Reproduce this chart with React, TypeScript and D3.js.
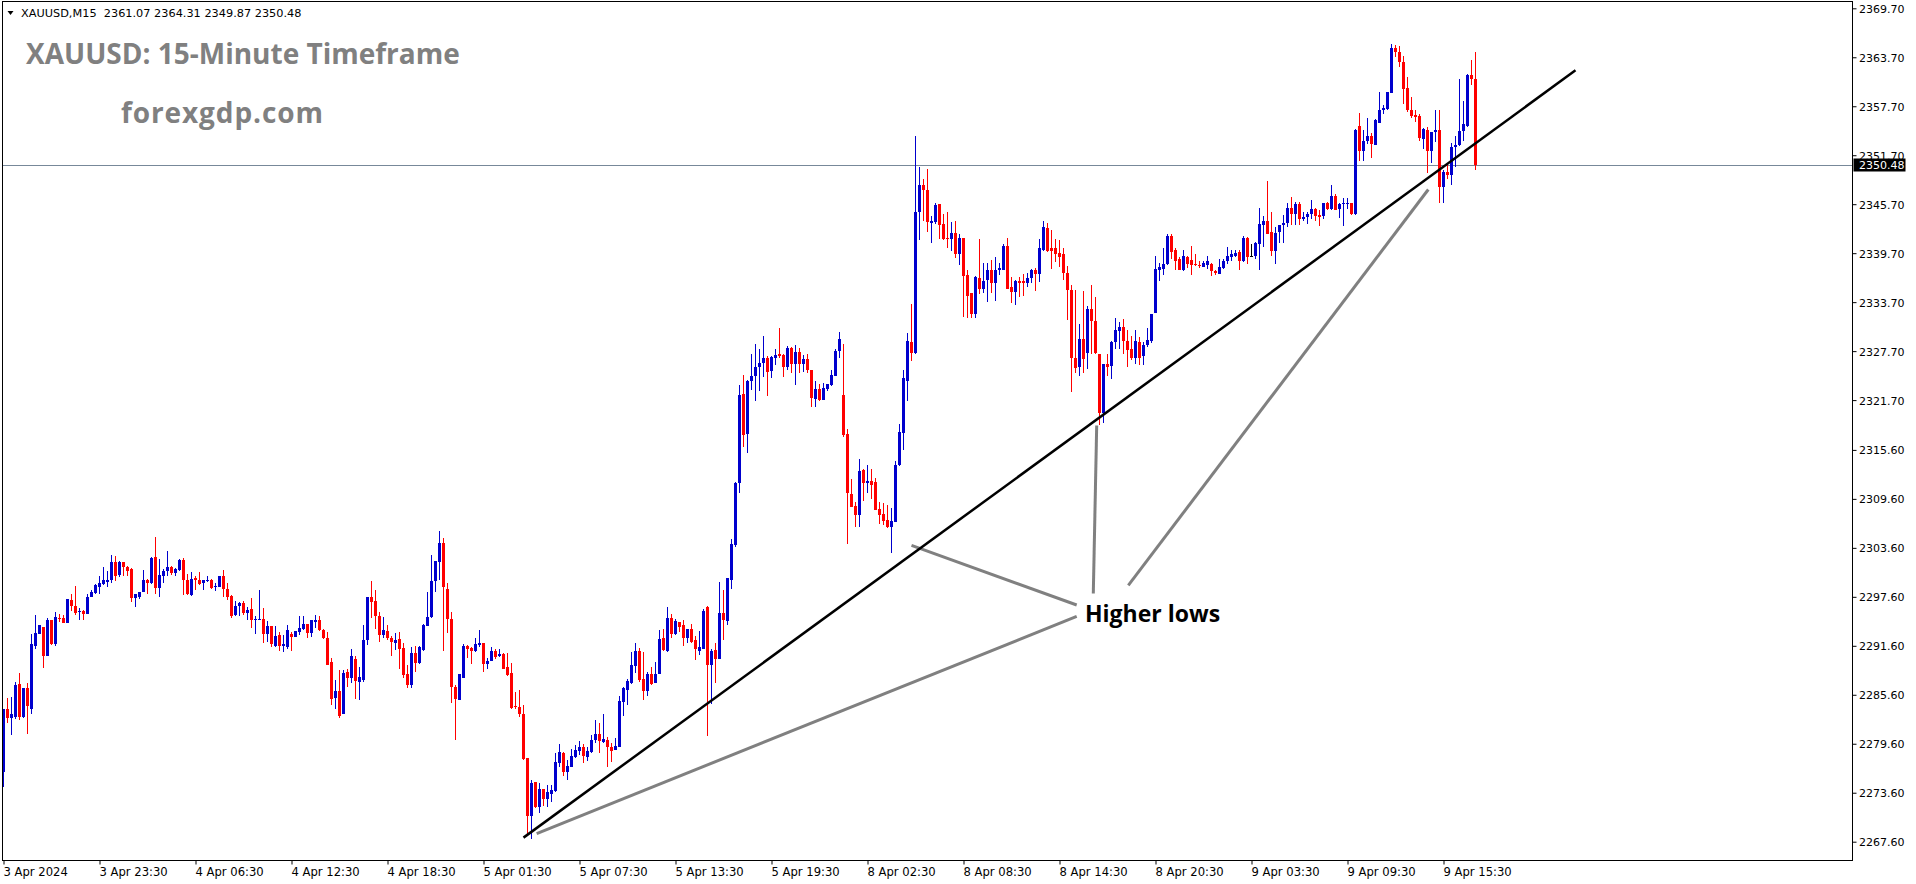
import React, { useEffect, useRef } from "react";
import * as d3 from "d3";

const WIDTH = 1916;
const HEIGHT = 884;
const PLOT = { left: 2.5, top: 1.5, right: 1852.5, bottom: 860.5 };

const symbolHeader = "XAUUSD,M15  2361.07 2364.31 2349.87 2350.48";
const chartTitle = "XAUUSD: 15-Minute Timeframe";
const siteName = "forexgdp.com";
const annotationText = "Higher lows";
const lastPrice = 2350.48;

const priceTicks = [
  "2369.70", "2363.70", "2357.70", "2351.70", "2345.70", "2339.70",
  "2333.70", "2327.70", "2321.70", "2315.60", "2309.60", "2303.60",
  "2297.60", "2291.60", "2285.60", "2279.60", "2273.60", "2267.60",
];

// one label every 24 bars
const barsPerLabel = 24;
const timeLabels = [
  "3 Apr 2024", "3 Apr 23:30", "4 Apr 06:30", "4 Apr 12:30", "4 Apr 18:30",
  "5 Apr 01:30", "5 Apr 07:30", "5 Apr 13:30", "5 Apr 19:30", "8 Apr 02:30",
  "8 Apr 08:30", "8 Apr 14:30", "8 Apr 20:30", "9 Apr 03:30", "9 Apr 09:30",
  "9 Apr 15:30",
];

// [open, high, low, close] for each M15 bar
const ohlc: [number, number, number, number][] = [
  [2276.1, 2283.9, 2274.3, 2283.9], [2283.9, 2285.2, 2282.1, 2282.8], [2282.8, 2285.3, 2280.7, 2283.2],
  [2282.9, 2287.2, 2282.6, 2286.8], [2286.9, 2288.3, 2282.5, 2282.9], [2282.9, 2286.4, 2282.7, 2286.4],
  [2286.4, 2287.0, 2280.8, 2284.2], [2283.9, 2293.0, 2283.2, 2291.8], [2291.6, 2295.4, 2291.2, 2293.2],
  [2293.1, 2294.1, 2293.1, 2294.1], [2293.9, 2293.9, 2288.9, 2290.4], [2290.3, 2295.0, 2290.3, 2294.8],
  [2294.8, 2294.8, 2291.7, 2291.8], [2291.8, 2295.7, 2291.6, 2295.1], [2295.0, 2295.5, 2294.5, 2294.9],
  [2295.0, 2295.4, 2294.4, 2294.4], [2294.4, 2297.3, 2294.4, 2297.3], [2297.2, 2297.9, 2295.9, 2296.5],
  [2296.5, 2298.9, 2295.4, 2295.6], [2295.7, 2296.2, 2294.7, 2295.9], [2295.9, 2296.0, 2294.8, 2295.5],
  [2295.5, 2297.9, 2295.5, 2297.6], [2297.6, 2298.4, 2297.6, 2298.2], [2298.1, 2299.2, 2297.9, 2299.0],
  [2298.8, 2300.1, 2297.9, 2299.3], [2299.2, 2301.2, 2299.0, 2299.7], [2299.4, 2300.8, 2298.8, 2299.7],
  [2299.7, 2302.7, 2299.3, 2301.9], [2301.9, 2302.6, 2299.5, 2300.2], [2300.3, 2302.0, 2300.0, 2301.9],
  [2301.9, 2301.9, 2300.1, 2301.3], [2301.3, 2301.4, 2300.1, 2300.8], [2301.0, 2301.1, 2297.0, 2297.5],
  [2297.5, 2298.0, 2296.4, 2297.9], [2297.6, 2298.2, 2297.3, 2298.2], [2298.2, 2300.9, 2298.2, 2299.7],
  [2299.7, 2299.8, 2297.9, 2299.3], [2299.3, 2302.5, 2299.2, 2302.3], [2302.5, 2304.9, 2297.9, 2298.7],
  [2298.7, 2302.2, 2297.6, 2300.3], [2300.2, 2301.0, 2299.3, 2300.8], [2300.8, 2303.2, 2300.1, 2301.2],
  [2301.2, 2301.4, 2300.3, 2300.5], [2300.5, 2301.1, 2300.1, 2301.0], [2300.9, 2302.2, 2300.8, 2302.1],
  [2302.1, 2302.3, 2297.8, 2299.6], [2299.6, 2300.4, 2297.8, 2297.9], [2297.8, 2300.6, 2297.7, 2299.8],
  [2299.9, 2300.1, 2298.4, 2299.7], [2299.7, 2300.6, 2299.0, 2299.2], [2299.3, 2299.7, 2298.4, 2299.7],
  [2299.5, 2300.1, 2299.4, 2299.7], [2299.7, 2299.8, 2298.6, 2298.7], [2298.8, 2299.3, 2298.3, 2298.9],
  [2298.8, 2300.1, 2298.8, 2300.1], [2300.1, 2300.9, 2297.6, 2298.6], [2298.5, 2299.3, 2297.2, 2297.6],
  [2297.7, 2297.8, 2295.0, 2295.3], [2295.4, 2297.1, 2295.2, 2296.5], [2296.5, 2297.0, 2295.3, 2296.9],
  [2296.9, 2297.1, 2295.4, 2295.6], [2295.6, 2296.3, 2294.8, 2296.0], [2296.1, 2297.5, 2293.8, 2294.8],
  [2294.7, 2295.2, 2293.0, 2294.9], [2294.8, 2298.4, 2294.7, 2294.9], [2294.9, 2296.2, 2292.0, 2293.1],
  [2293.1, 2294.6, 2292.1, 2294.0], [2294.0, 2294.0, 2291.5, 2291.8], [2291.6, 2294.0, 2291.5, 2292.8],
  [2292.9, 2293.3, 2291.0, 2291.6], [2291.6, 2292.9, 2290.9, 2291.8], [2291.5, 2294.1, 2291.2, 2293.5],
  [2293.1, 2293.3, 2291.0, 2292.7], [2292.7, 2293.4, 2292.7, 2293.4], [2293.3, 2295.2, 2292.9, 2293.8],
  [2293.7, 2295.2, 2293.5, 2294.3], [2294.3, 2294.3, 2292.6, 2293.2], [2293.2, 2294.8, 2292.7, 2294.7],
  [2294.5, 2295.4, 2293.8, 2294.8], [2294.8, 2295.2, 2293.4, 2293.5], [2293.5, 2293.6, 2292.4, 2292.6],
  [2292.6, 2293.3, 2289.2, 2289.3], [2289.6, 2290.1, 2284.3, 2285.1], [2285.2, 2287.4, 2283.9, 2286.1],
  [2286.1, 2288.6, 2282.8, 2283.0], [2283.2, 2288.6, 2283.2, 2288.3], [2288.4, 2288.7, 2286.6, 2287.7],
  [2287.7, 2291.2, 2287.1, 2290.3], [2290.0, 2290.3, 2285.1, 2287.3], [2287.2, 2289.0, 2285.0, 2287.8],
  [2287.4, 2294.1, 2287.2, 2292.3], [2292.3, 2297.6, 2291.7, 2297.6], [2297.6, 2299.5, 2295.0, 2297.0],
  [2297.1, 2298.4, 2293.7, 2295.2], [2295.2, 2295.7, 2292.1, 2292.9], [2292.9, 2295.1, 2292.6, 2293.5],
  [2293.4, 2294.1, 2292.3, 2292.5], [2292.6, 2292.8, 2290.4, 2292.1], [2292.0, 2293.2, 2291.1, 2292.3],
  [2292.4, 2293.3, 2288.8, 2291.2], [2291.3, 2291.9, 2287.6, 2288.0], [2288.2, 2289.3, 2286.4, 2286.8],
  [2286.8, 2291.4, 2286.4, 2290.7], [2290.7, 2291.6, 2288.4, 2289.5], [2289.5, 2291.6, 2289.4, 2291.4],
  [2291.1, 2294.3, 2291.0, 2294.2], [2294.0, 2298.2, 2294.0, 2295.1], [2295.1, 2302.7, 2295.0, 2299.5],
  [2299.5, 2302.0, 2298.2, 2302.0], [2301.9, 2305.7, 2299.7, 2304.2], [2304.2, 2304.8, 2291.0, 2298.8],
  [2298.6, 2299.3, 2293.2, 2294.9], [2294.9, 2295.8, 2284.6, 2286.5], [2286.5, 2286.8, 2280.1, 2285.1],
  [2285.0, 2288.2, 2284.9, 2288.1], [2287.7, 2291.8, 2287.7, 2291.6], [2291.6, 2291.7, 2290.1, 2291.2],
  [2291.3, 2291.5, 2289.4, 2291.0], [2291.0, 2292.5, 2290.8, 2291.8], [2291.7, 2293.5, 2291.5, 2291.9],
  [2291.9, 2291.9, 2288.4, 2289.4], [2289.4, 2290.1, 2288.8, 2289.7], [2289.7, 2291.4, 2289.7, 2291.0],
  [2291.0, 2291.2, 2290.0, 2290.2], [2290.3, 2291.2, 2290.2, 2290.6], [2290.6, 2290.7, 2288.7, 2288.8],
  [2289.0, 2290.7, 2287.9, 2288.0], [2288.3, 2289.5, 2283.9, 2284.0], [2284.2, 2285.9, 2283.9, 2284.1],
  [2284.1, 2286.2, 2282.9, 2283.2], [2283.2, 2284.3, 2277.6, 2277.7], [2277.8, 2277.8, 2268.6, 2270.8],
  [2270.7, 2275.2, 2267.9, 2274.8], [2274.9, 2274.9, 2271.7, 2271.8], [2271.8, 2274.8, 2271.1, 2274.1],
  [2274.1, 2274.1, 2272.0, 2272.8], [2272.8, 2274.5, 2271.9, 2273.7], [2273.5, 2274.5, 2272.5, 2273.9],
  [2273.8, 2278.5, 2273.7, 2277.4], [2277.3, 2279.6, 2276.7, 2278.6], [2278.5, 2278.6, 2275.6, 2276.1],
  [2276.1, 2277.6, 2275.2, 2276.9], [2276.8, 2279.0, 2276.7, 2278.1], [2278.0, 2279.4, 2277.9, 2278.8],
  [2278.7, 2279.9, 2278.2, 2279.2], [2279.2, 2279.6, 2277.2, 2278.1], [2278.0, 2279.2, 2277.5, 2278.7],
  [2278.6, 2280.7, 2278.5, 2280.1], [2280.0, 2282.5, 2279.7, 2280.8], [2280.8, 2282.1, 2278.5, 2279.9],
  [2279.8, 2283.3, 2279.7, 2280.2], [2280.1, 2280.4, 2276.7, 2279.2], [2279.2, 2279.7, 2277.4, 2278.7],
  [2278.8, 2280.3, 2278.8, 2279.3], [2279.2, 2285.5, 2279.2, 2284.8], [2284.7, 2286.6, 2283.0, 2286.4],
  [2286.2, 2287.5, 2284.3, 2287.3], [2287.0, 2290.8, 2286.9, 2289.2], [2289.1, 2291.9, 2288.3, 2291.0],
  [2291.0, 2291.3, 2287.2, 2287.4], [2287.5, 2290.8, 2285.0, 2286.1], [2286.1, 2288.4, 2285.5, 2288.1],
  [2288.1, 2289.0, 2286.8, 2286.9], [2287.1, 2289.6, 2287.0, 2288.1], [2288.1, 2293.5, 2288.1, 2292.4],
  [2292.5, 2293.6, 2291.0, 2291.1], [2291.0, 2296.3, 2290.9, 2295.0], [2295.0, 2295.5, 2292.6, 2293.0],
  [2293.0, 2294.9, 2292.9, 2294.6], [2294.5, 2294.5, 2293.3, 2293.9], [2294.1, 2294.8, 2291.6, 2292.6],
  [2292.6, 2293.7, 2291.9, 2293.6], [2293.6, 2294.3, 2292.0, 2292.1], [2292.3, 2292.8, 2289.9, 2291.2],
  [2291.0, 2293.4, 2290.5, 2291.4], [2291.2, 2296.1, 2291.2, 2295.9], [2296.3, 2296.5, 2280.5, 2289.2],
  [2289.2, 2291.2, 2284.5, 2291.0], [2291.1, 2292.0, 2287.1, 2290.0], [2290.0, 2299.4, 2290.0, 2295.6],
  [2295.6, 2298.4, 2292.3, 2294.8], [2294.6, 2299.9, 2294.1, 2299.9], [2299.6, 2304.7, 2298.6, 2304.1],
  [2303.9, 2311.7, 2303.7, 2311.6], [2311.5, 2323.5, 2310.3, 2322.3], [2322.4, 2324.8, 2316.0, 2317.4],
  [2317.5, 2324.2, 2315.2, 2324.1], [2324.1, 2327.3, 2322.9, 2324.6], [2324.6, 2328.6, 2321.6, 2325.8],
  [2325.8, 2327.9, 2322.8, 2326.3], [2326.2, 2329.5, 2324.5, 2326.9], [2326.9, 2327.1, 2322.2, 2325.2],
  [2325.3, 2327.1, 2324.4, 2327.0], [2326.9, 2327.9, 2326.0, 2327.2], [2327.3, 2330.5, 2326.9, 2327.1],
  [2327.2, 2327.4, 2324.5, 2325.7], [2325.7, 2328.3, 2325.4, 2328.1], [2328.1, 2328.2, 2325.0, 2326.1],
  [2326.1, 2328.5, 2323.6, 2327.6], [2327.6, 2328.1, 2325.0, 2326.1], [2326.1, 2327.2, 2325.2, 2326.7],
  [2326.7, 2327.4, 2325.0, 2325.4], [2325.4, 2325.4, 2320.8, 2321.9], [2321.8, 2324.1, 2320.8, 2323.0],
  [2323.0, 2323.7, 2321.6, 2321.7], [2321.7, 2323.8, 2321.7, 2323.2], [2323.1, 2323.7, 2322.8, 2323.7],
  [2323.5, 2325.4, 2323.4, 2324.8], [2324.6, 2327.9, 2324.6, 2327.7], [2327.7, 2330.0, 2326.9, 2329.2],
  [2322.3, 2328.6, 2317.2, 2317.4], [2317.5, 2318.2, 2304.1, 2310.3], [2310.2, 2312.0, 2308.6, 2308.6],
  [2308.7, 2309.2, 2306.2, 2307.6], [2307.6, 2314.5, 2306.2, 2313.0], [2313.1, 2313.3, 2309.4, 2311.6],
  [2311.6, 2313.7, 2310.3, 2311.8], [2311.8, 2313.2, 2309.6, 2311.3], [2311.7, 2312.2, 2308.2, 2308.2],
  [2308.3, 2309.2, 2306.5, 2307.6], [2307.7, 2309.1, 2306.4, 2306.9], [2307.0, 2308.8, 2306.0, 2306.1],
  [2306.1, 2308.5, 2303.0, 2306.9], [2306.8, 2314.2, 2306.8, 2313.7], [2313.7, 2318.8, 2313.6, 2317.8],
  [2317.7, 2325.4, 2315.6, 2324.4], [2324.1, 2329.9, 2321.6, 2328.9], [2328.8, 2333.5, 2326.5, 2327.5],
  [2327.5, 2354.0, 2327.4, 2344.8], [2344.8, 2350.2, 2341.3, 2348.1], [2348.1, 2348.8, 2343.7, 2347.5],
  [2347.5, 2350.0, 2342.3, 2343.5], [2343.4, 2344.3, 2341.0, 2343.7], [2343.5, 2345.9, 2343.3, 2345.6],
  [2345.7, 2345.7, 2341.4, 2343.2], [2343.3, 2344.5, 2341.3, 2341.4], [2341.6, 2344.8, 2340.3, 2341.4],
  [2341.4, 2343.5, 2340.0, 2342.2], [2342.2, 2343.7, 2339.1, 2339.6], [2339.6, 2342.1, 2338.3, 2341.6],
  [2341.6, 2341.6, 2331.9, 2336.9], [2337.0, 2337.6, 2331.8, 2334.5], [2334.8, 2334.8, 2331.8, 2332.2],
  [2332.2, 2336.9, 2331.8, 2336.8], [2336.7, 2341.4, 2334.7, 2335.3], [2335.3, 2338.5, 2334.8, 2336.3],
  [2336.4, 2338.5, 2333.7, 2337.7], [2337.7, 2338.9, 2334.8, 2336.1], [2336.1, 2339.2, 2333.9, 2337.6],
  [2337.6, 2338.5, 2337.0, 2337.9], [2337.6, 2340.8, 2337.6, 2340.6], [2340.6, 2341.6, 2335.3, 2335.3],
  [2335.5, 2336.8, 2333.6, 2334.9], [2334.9, 2336.4, 2333.3, 2336.3], [2336.3, 2336.8, 2334.3, 2336.1],
  [2336.3, 2337.2, 2334.5, 2336.1], [2336.1, 2337.3, 2335.5, 2336.7], [2336.7, 2337.8, 2336.1, 2337.6],
  [2337.6, 2337.9, 2335.1, 2337.1], [2337.1, 2341.4, 2336.2, 2340.3], [2340.1, 2343.7, 2340.0, 2342.9],
  [2342.8, 2343.4, 2339.9, 2340.0], [2340.3, 2342.5, 2337.8, 2340.0], [2340.3, 2341.4, 2338.6, 2339.6],
  [2339.7, 2341.3, 2338.0, 2339.2], [2339.6, 2340.3, 2336.4, 2337.3], [2337.3, 2338.1, 2331.5, 2335.2],
  [2335.2, 2335.8, 2322.7, 2326.8], [2326.8, 2335.2, 2325.0, 2325.6], [2325.7, 2331.0, 2324.6, 2329.2],
  [2329.2, 2335.1, 2325.0, 2326.7], [2327.5, 2333.2, 2325.5, 2332.8], [2332.8, 2335.8, 2327.4, 2331.4],
  [2331.4, 2334.3, 2327.4, 2327.5], [2327.4, 2327.4, 2318.6, 2320.1], [2320.1, 2326.1, 2318.9, 2326.1],
  [2326.1, 2327.4, 2324.6, 2325.7], [2325.9, 2329.0, 2324.3, 2328.8], [2328.8, 2331.7, 2328.0, 2330.3],
  [2330.2, 2331.3, 2328.0, 2330.6], [2330.6, 2331.6, 2327.4, 2329.0], [2329.0, 2330.3, 2325.7, 2327.8],
  [2328.0, 2329.5, 2326.6, 2326.8], [2326.9, 2330.3, 2326.1, 2329.0], [2328.8, 2329.4, 2326.0, 2326.9],
  [2327.1, 2328.8, 2326.0, 2328.5], [2328.4, 2330.5, 2328.2, 2329.1], [2329.0, 2332.2, 2328.7, 2332.2],
  [2332.4, 2339.3, 2332.4, 2337.8], [2337.7, 2338.5, 2336.3, 2338.0], [2337.8, 2340.3, 2337.0, 2338.4],
  [2338.4, 2342.0, 2338.3, 2341.8], [2341.8, 2342.1, 2339.0, 2339.9], [2340.1, 2340.3, 2337.6, 2338.8],
  [2339.0, 2339.2, 2337.6, 2337.7], [2337.7, 2340.1, 2337.5, 2339.4], [2339.2, 2339.4, 2337.9, 2338.4],
  [2338.9, 2340.6, 2337.0, 2338.3], [2338.4, 2339.6, 2338.1, 2338.2], [2338.3, 2338.8, 2337.9, 2338.1],
  [2338.0, 2338.8, 2338.0, 2338.5], [2338.3, 2339.4, 2337.8, 2338.8], [2338.4, 2338.5, 2336.9, 2337.5],
  [2337.5, 2337.7, 2337.0, 2337.3], [2337.2, 2339.0, 2337.1, 2338.0], [2337.9, 2339.0, 2337.8, 2338.7],
  [2338.7, 2340.5, 2338.4, 2339.3], [2339.2, 2340.1, 2338.8, 2339.6], [2339.3, 2340.1, 2339.2, 2339.7],
  [2339.9, 2340.1, 2337.6, 2338.7], [2338.7, 2341.8, 2338.6, 2341.6], [2341.6, 2341.7, 2338.4, 2339.2],
  [2339.3, 2340.8, 2339.2, 2339.3], [2339.3, 2341.1, 2339.0, 2340.9], [2340.8, 2345.2, 2337.7, 2343.3],
  [2343.2, 2344.3, 2340.5, 2343.7], [2343.7, 2348.5, 2342.0, 2342.1], [2342.3, 2344.7, 2339.3, 2340.0],
  [2340.0, 2342.9, 2338.4, 2342.2], [2342.3, 2343.2, 2341.0, 2343.1], [2343.1, 2344.4, 2341.0, 2343.4],
  [2343.4, 2345.9, 2342.9, 2345.2], [2345.2, 2346.6, 2343.2, 2344.5], [2344.5, 2346.0, 2343.2, 2345.7],
  [2345.7, 2346.0, 2343.1, 2343.9], [2343.9, 2344.8, 2343.6, 2344.1], [2344.1, 2344.8, 2343.3, 2344.5],
  [2344.5, 2346.2, 2343.9, 2345.1], [2345.1, 2345.2, 2343.7, 2344.2], [2344.4, 2345.0, 2343.0, 2344.1],
  [2344.2, 2345.9, 2343.9, 2345.9], [2345.9, 2346.0, 2345.0, 2345.1], [2345.1, 2348.0, 2345.0, 2346.7],
  [2346.7, 2346.9, 2345.0, 2345.0], [2345.1, 2345.9, 2344.0, 2345.7], [2345.7, 2346.4, 2343.0, 2345.9],
  [2345.7, 2346.4, 2345.1, 2345.9], [2345.9, 2345.9, 2344.4, 2344.5], [2344.5, 2354.9, 2344.4, 2354.8],
  [2355.3, 2356.9, 2351.0, 2352.2], [2352.2, 2354.8, 2351.0, 2353.5], [2353.5, 2356.2, 2353.1, 2354.0],
  [2354.0, 2354.4, 2351.4, 2353.1], [2353.0, 2356.1, 2352.9, 2356.0], [2355.7, 2359.4, 2355.6, 2357.3],
  [2357.2, 2357.8, 2356.8, 2357.5], [2357.4, 2359.5, 2357.3, 2359.5], [2359.3, 2365.3, 2359.3, 2364.8],
  [2364.8, 2365.2, 2363.7, 2364.4], [2364.4, 2365.1, 2362.5, 2363.1], [2363.1, 2363.9, 2358.0, 2359.8],
  [2359.9, 2361.3, 2357.0, 2357.2], [2357.3, 2358.8, 2356.3, 2356.5], [2356.6, 2357.2, 2355.8, 2356.4],
  [2356.5, 2356.8, 2353.4, 2353.8], [2353.7, 2355.0, 2352.5, 2354.9], [2354.8, 2355.2, 2349.5, 2352.2],
  [2352.2, 2354.6, 2350.7, 2354.6], [2354.5, 2357.2, 2353.3, 2354.8], [2354.8, 2357.3, 2345.8, 2347.8],
  [2347.8, 2349.9, 2345.9, 2349.7], [2349.7, 2350.7, 2348.8, 2349.3], [2349.3, 2353.2, 2348.1, 2352.7],
  [2352.7, 2354.0, 2350.3, 2352.9], [2352.9, 2361.0, 2352.8, 2354.7], [2354.7, 2358.4, 2353.5, 2355.5],
  [2355.3, 2361.6, 2355.2, 2361.5], [2361.5, 2363.4, 2360.3, 2361.0], [2361.07, 2364.31, 2349.87, 2350.48],
];

// drawn objects, as [bar index, price] end points
const trendLine: [number, number][] = [[130, 2268.1], [393, 2362.1]];
const pointerLines: [number, number][][] = [
  [[227, 2303.9], [268.3, 2296.6]],
  [[133.3, 2268.6], [268.3, 2295.2]],
  [[273.3, 2318.6], [272.45, 2298.0]],
  [[281.2, 2299.0], [356.2, 2347.5]],
];

const BULL = "#0000CD";
const BEAR = "#FF0000";

export default function App() {
  const svgRef = useRef<SVGSVGElement>(null);

  useEffect(() => {
    const svg = d3.select(svgRef.current);
    svg.selectAll("*").remove();

    const x = d3
      .scaleLinear()
      .domain([0, ohlc.length - 1])
      .range([3.5, 3.5 + 4 * (ohlc.length - 1)]);
    const y = d3.scaleLinear().domain([2267.6, 2369.7]).range([841.7, 8.3]);

    svg.append("rect").attr("width", WIDTH).attr("height", HEIGHT).attr("fill", "#fff");

    svg
      .append("defs")
      .append("clipPath")
      .attr("id", "plot-clip")
      .append("rect")
      .attr("x", 3)
      .attr("y", 2)
      .attr("width", PLOT.right - 3)
      .attr("height", PLOT.bottom - 2);

    const plot = svg.append("g").attr("clip-path", "url(#plot-clip)");

    // last price line
    const py = Math.round(y(lastPrice)) + 0.5;
    plot
      .append("line")
      .attr("x1", PLOT.left)
      .attr("x2", PLOT.right)
      .attr("y1", py)
      .attr("y2", py)
      .attr("stroke", "#778899")
      .attr("stroke-width", 1);

    // candles
    const bars = plot
      .append("g")
      .attr("shape-rendering", "crispEdges")
      .selectAll("g")
      .data(ohlc)
      .join("g");

    const colorOf = (d: number[]) => (d[3] > d[0] ? BULL : d[3] < d[0] ? BEAR : "#000");

    bars
      .append("line")
      .attr("x1", (d, i) => x(i))
      .attr("x2", (d, i) => x(i))
      .attr("y1", (d) => y(Math.max(d[1], d[0], d[3])))
      .attr("y2", (d) => y(Math.min(d[2], d[0], d[3])))
      .attr("stroke", colorOf)
      .attr("stroke-width", 1);

    bars
      .append("rect")
      .attr("x", (d, i) => x(i) - 1.5)
      .attr("width", 3)
      .attr("y", (d) => Math.round(y(Math.max(d[0], d[3]))))
      .attr("height", (d) =>
        Math.max(1, Math.round(y(Math.min(d[0], d[3]))) - Math.round(y(Math.max(d[0], d[3]))))
      )
      .attr("fill", colorOf);

    // trend line + pointers
    const seg = d3
      .line<[number, number]>()
      .x((p) => x(p[0]))
      .y((p) => y(p[1]));

    plot
      .selectAll("path.pointer")
      .data(pointerLines)
      .join("path")
      .attr("class", "pointer")
      .attr("d", (d) => seg(d))
      .attr("fill", "none")
      .attr("stroke", "#808080")
      .attr("stroke-width", 3);

    plot
      .append("path")
      .attr("d", seg(trendLine))
      .attr("fill", "none")
      .attr("stroke", "#000")
      .attr("stroke-width", 2.5);

    plot
      .append("text")
      .attr("x", 1085)
      .attr("y", 622)
      .attr("font-family", "'Open Sans', sans-serif")
      .attr("font-weight", 700)
      .attr("font-size", 23)
      .attr("fill", "#000")
      .text(annotationText);

    // frame
    svg
      .append("rect")
      .attr("x", PLOT.left)
      .attr("y", PLOT.top)
      .attr("width", PLOT.right - PLOT.left)
      .attr("height", PLOT.bottom - PLOT.top)
      .attr("fill", "none")
      .attr("stroke", "#000")
      .attr("stroke-width", 1);

    // price axis
    const yAxis = d3
      .axisRight(y)
      .tickValues(priceTicks.map(Number))
      .tickFormat((d, i) => priceTicks[i])
      .tickSize(4)
      .tickPadding(2.5);

    svg
      .append("g")
      .attr("transform", `translate(${PLOT.right},0)`)
      .call(yAxis)
      .call((g) => g.select(".domain").remove())
      .call((g) => g.selectAll("line").attr("stroke", "#000"))
      .call((g) =>
        g
          .selectAll("text")
          .attr("fill", "#000")
          .attr("dy", "0.36em")
          .attr("font-family", "'DejaVu Sans', sans-serif")
          .attr("font-size", 11)
      );

    // time axis
    const xAxis = d3
      .axisBottom(x)
      .tickValues(timeLabels.map((_, k) => k * barsPerLabel))
      .tickFormat((d, i) => timeLabels[i])
      .tickSize(4);

    svg
      .append("g")
      .attr("transform", `translate(0,${PLOT.bottom})`)
      .call(xAxis)
      .call((g) => g.select(".domain").remove())
      .call((g) => g.selectAll("line").attr("stroke", "#000"))
      .call((g) =>
        g
          .selectAll("text")
          .attr("fill", "#000")
          .attr("text-anchor", "start")
          .attr("x", -0.5)
          .attr("y", 7.5)
          .attr("dy", "0.71em")
          .attr("font-family", "'DejaVu Sans', sans-serif")
          .attr("font-size", 11.6)
      );

    // last price badge
    svg
      .append("rect")
      .attr("x", PLOT.right + 1)
      .attr("y", py - 7)
      .attr("width", 52)
      .attr("height", 13)
      .attr("fill", "#000");
    svg
      .append("text")
      .attr("x", PLOT.right + 6.5)
      .attr("y", py)
      .attr("dy", "0.36em")
      .attr("font-family", "'DejaVu Sans', sans-serif")
      .attr("font-size", 11)
      .attr("fill", "#fff")
      .text(lastPrice.toFixed(2));

    // header
    svg
      .append("path")
      .attr("d", "M7.5,11 L13.5,11 L10.5,15 Z")
      .attr("fill", "#000");
    svg
      .append("text")
      .attr("x", 21)
      .attr("y", 17)
      .attr("font-family", "'DejaVu Sans', sans-serif")
      .attr("font-size", 11.3)
      .attr("fill", "#000")
      .attr("xml:space", "preserve")
      .style("white-space", "pre")
      .text(symbolHeader);

    svg
      .append("text")
      .attr("x", 26)
      .attr("y", 64)
      .attr("font-family", "'Open Sans', sans-serif")
      .attr("font-weight", 700)
      .attr("font-size", 28)
      .attr("fill", "#808080")
      .text(chartTitle);

    svg
      .append("text")
      .attr("x", 121)
      .attr("y", 123)
      .attr("font-family", "'Open Sans', sans-serif")
      .attr("font-weight", 700)
      .attr("font-size", 28)
      .attr("letter-spacing", 0.9)
      .attr("fill", "#808080")
      .text(siteName);
  }, []);

  return (
    <svg
      ref={svgRef}
      width={WIDTH}
      height={HEIGHT}
      style={{ position: "absolute", left: 0, top: 0, display: "block" }}
    />
  );
}
